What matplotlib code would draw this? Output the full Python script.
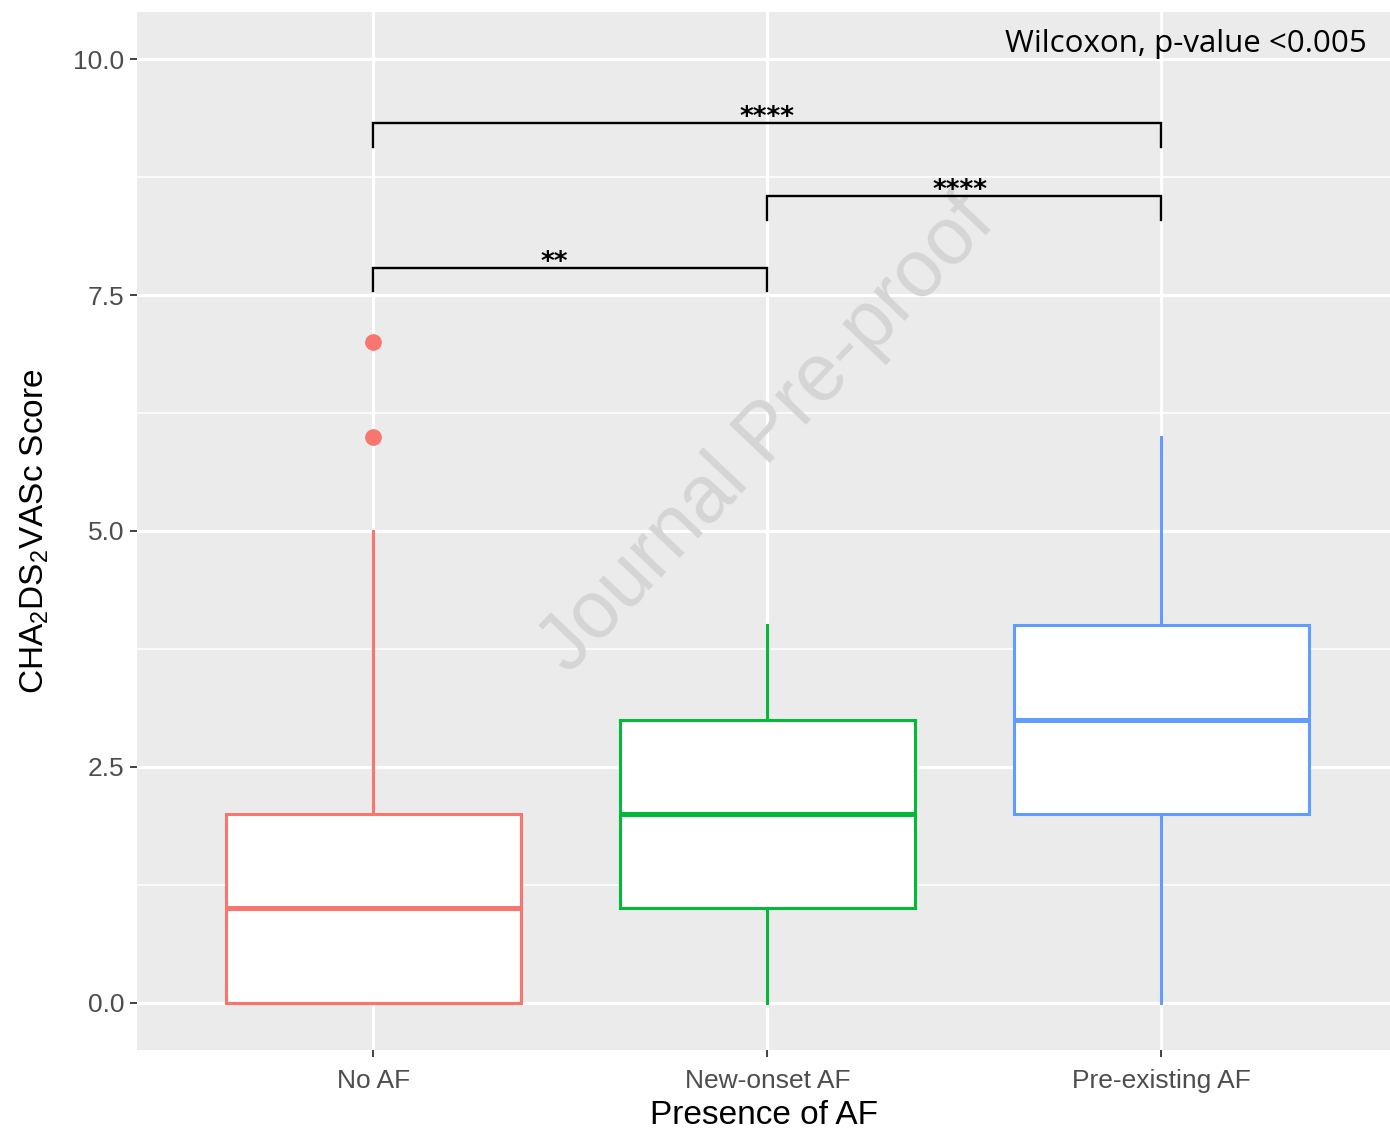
import matplotlib
matplotlib.use("Agg")
import matplotlib.pyplot as plt
from matplotlib.ticker import MultipleLocator

# ---- data ----
categories = ["No AF", "New-onset AF", "Pre-existing AF"]
q1 = [0, 1, 2]
medians = [1, 2, 3]
q3 = [2, 3, 4]
whisker_low = [0, 0, 0]
whisker_high = [5, 4, 6]
outliers = [[6, 7], [], []]
colors = ["#F8766D", "#00BA38", "#619CFF"]

# significance brackets: (left group, right group, height, label)
brk_left = [1, 2, 1]
brk_right = [3, 3, 2]
brk_height = [9.32, 8.55, 7.79]
brk_label = ["****", "****", "**"]
brk_label_x = [2.0, 2.49, 1.46]

test_text = "Wilcoxon, p-value <0.005"
y_ticks = [0.0, 2.5, 5.0, 7.5, 10.0]
x_title = "Presence of AF"
y_title = r"CHA$_2$DS$_2$VASc Score"
watermark = "Journal Pre-proof"

plt.rcParams["font.family"] = ["Liberation Sans", "DejaVu Sans"]
plt.rcParams["mathtext.default"] = "regular"

fig = plt.figure(figsize=(13.9, 11.33), dpi=100)
ax = fig.add_axes([137 / 1390, 1 - 1050 / 1133, 1 - 137 / 1390, (1050 - 12) / 1133])
ax.set_facecolor("#EBEBEB")
for s in ax.spines.values():
    s.set_visible(False)

positions = list(range(1, len(categories) + 1))

ax.set_xlim(0.4, 3.58)
ax.set_ylim(-0.5, 10.5)
ax.set_yticks(y_ticks)
ax.set_yticklabels([f"{v:.1f}" for v in y_ticks])
ax.yaxis.set_minor_locator(MultipleLocator(1.25))
ax.set_xticks(positions)
ax.set_xticklabels(categories)

ax.grid(which="major", color="white", lw=2.3, zorder=0)
ax.grid(which="minor", axis="y", color="white", lw=1.1, zorder=0)
ax.set_axisbelow(True)
ax.tick_params(which="major", length=5, width=1.3, color="#333333",
               labelcolor="#4D4D4D", labelsize=19, pad=4)
ax.tick_params(axis="x", which="major", pad=9)
ax.tick_params(which="minor", length=0)

# watermark
ax.text(2.0, 6.02, watermark, fontsize=58, color="#D5D5D5", rotation=46.5,
        ha="center", va="center", zorder=1)

for i, pos in enumerate(positions):
    stats = [dict(med=medians[i], q1=q1[i], q3=q3[i],
                  whislo=whisker_low[i], whishi=whisker_high[i],
                  fliers=outliers[i])]
    c = colors[i]
    ax.bxp(stats, positions=[pos], widths=0.75, patch_artist=True,
           showcaps=False, manage_ticks=False,
           boxprops=dict(facecolor="white", edgecolor=c, lw=2.2),
           medianprops=dict(color=c, lw=3.6),
           whiskerprops=dict(color=c, lw=2.2),
           flierprops=dict(marker="o", markerfacecolor=c, markeredgecolor=c,
                           markersize=11),
           zorder=3)

# brackets
tip = 0.25
for l, r, h, lab, lx in zip(brk_left, brk_right, brk_height, brk_label, brk_label_x):
    ax.plot([l, l, r, r], [h - tip, h, h, h - tip], color="black", lw=1.7,
            solid_joinstyle="miter", zorder=4)
    ax.text(lx, h - 0.02, lab, ha="center", va="baseline", fontsize=19,
            family="DejaVu Sans", weight="bold", color="black", zorder=4)

ax.text(3.522, 10.16, test_text, ha="right", va="center", fontsize=22.5,
        family="Open Sans", color="black", zorder=4)

ax.set_xlabel(x_title, fontsize=24, color="black", labelpad=5)
ax.set_ylabel(y_title, fontsize=24, color="black", labelpad=16)

fig.savefig("out.png", dpi=100, facecolor="white")
